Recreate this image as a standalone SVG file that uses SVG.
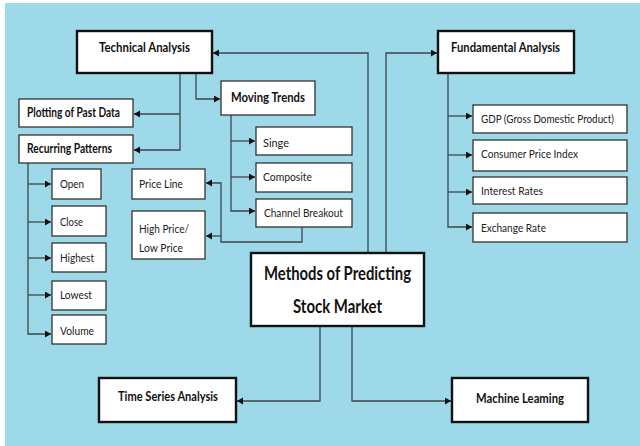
<svg xmlns="http://www.w3.org/2000/svg" width="640" height="446" viewBox="0 0 640 446">
<style>
.main{fill:#fff;stroke:#111;stroke-width:2.4}
.sub{fill:#fff;stroke:#333;stroke-width:1.3}
.hb{font-family:Lato,"Liberation Sans",sans-serif;font-weight:bold;font-size:12.5px;fill:#111}
.big{font-family:Lato,"Liberation Sans",sans-serif;font-weight:bold;font-size:18px;fill:#111}
.t{font-family:Lato,"Liberation Sans",sans-serif;font-size:12px;fill:#222}
.c path{fill:none;stroke:#3b4650;stroke-width:1.3}
</style>
<defs>
<marker id="ah" markerUnits="userSpaceOnUse" markerWidth="8" markerHeight="8" refX="6" refY="3.5" orient="auto">
<path d="M0,0 L6,3.5 L0,7 Z" fill="#111"/>
</marker>
</defs>
<rect x="0" y="0" width="640" height="446" fill="#fff"/>
<rect x="5" y="3" width="635" height="443" fill="#9ED9E9"/>

<g class="c">
<path d="M368,253 V53 H213" marker-end="url(#ah)"/>
<path d="M386,253 V53 H437" marker-end="url(#ah)"/>
<path d="M180,73 V150 H134" marker-end="url(#ah)"/>
<path d="M180,114 H134" marker-end="url(#ah)"/>
<path d="M196,73 V99 H220" marker-end="url(#ah)"/>
<path d="M231,115 V211 H255" marker-end="url(#ah)"/>
<path d="M231,141 H255" marker-end="url(#ah)"/>
<path d="M231,177 H255" marker-end="url(#ah)"/>
<path d="M302,227 V242 H221 V183 H206" marker-end="url(#ah)"/>
<path d="M221,236 H206" marker-end="url(#ah)"/>
<path d="M28,163 V334 H51" marker-end="url(#ah)"/>
<path d="M28,184 H51" marker-end="url(#ah)"/>
<path d="M28,222 H51" marker-end="url(#ah)"/>
<path d="M28,258 H51" marker-end="url(#ah)"/>
<path d="M28,295 H51" marker-end="url(#ah)"/>
<path d="M448,73 V227 H472" marker-end="url(#ah)"/>
<path d="M448,116 H472" marker-end="url(#ah)"/>
<path d="M448,155 H472" marker-end="url(#ah)"/>
<path d="M448,192 H472" marker-end="url(#ah)"/>
<path d="M320,326 V401 H237" marker-end="url(#ah)"/>
<path d="M352,326 V401 H451" marker-end="url(#ah)"/>
</g>

<g id="technical"><rect class="main" x="77" y="31" width="135" height="42"/><text class="hb" x="99" y="52" textLength="91" lengthAdjust="spacingAndGlyphs">Technical Analysis</text></g>
<g id="fundamental"><rect class="main" x="438" y="31" width="136" height="42"/><text class="hb" x="451" y="52" textLength="109" lengthAdjust="spacingAndGlyphs">Fundamental Analysis</text></g>
<g id="moving"><rect class="sub" x="221" y="81" width="94" height="34"/><text class="hb" x="231" y="102" textLength="74" lengthAdjust="spacingAndGlyphs">Moving Trends</text></g>
<g id="plotting"><rect class="sub" x="19" y="99" width="114" height="28"/><text class="hb" x="27" y="117" textLength="93" lengthAdjust="spacingAndGlyphs">Plotting of Past Data</text></g>
<g id="recurring"><rect class="sub" x="19" y="135" width="114" height="28"/><text class="hb" x="27" y="153" textLength="85" lengthAdjust="spacingAndGlyphs">Recurring Patterns</text></g>
<g id="single"><rect class="sub" x="256" y="127" width="96" height="28"/><text class="t" x="263" y="147" textLength="26" lengthAdjust="spacingAndGlyphs">Singe</text></g>
<g id="composite"><rect class="sub" x="256" y="163" width="96" height="29"/><text class="t" x="263" y="181" textLength="49" lengthAdjust="spacingAndGlyphs">Composite</text></g>
<g id="channel"><rect class="sub" x="256" y="199" width="96" height="28"/><text class="t" x="264" y="217" textLength="79" lengthAdjust="spacingAndGlyphs">Channel Breakout</text></g>
<g id="priceline"><rect class="sub" x="132" y="169" width="73" height="30"/><text class="t" x="139" y="188" textLength="44" lengthAdjust="spacingAndGlyphs">Price Line</text></g>
<g id="highlow"><rect class="sub" x="132" y="211" width="73" height="48"/><text class="t" x="139" y="233" textLength="50" lengthAdjust="spacingAndGlyphs">High Price/</text><text class="t" x="139" y="252" textLength="44" lengthAdjust="spacingAndGlyphs">Low Price</text></g>
<g id="open"><rect class="sub" x="52" y="169" width="49" height="30"/><text class="t" x="60" y="188" textLength="24" lengthAdjust="spacingAndGlyphs">Open</text></g>
<g id="close"><rect class="sub" x="52" y="206" width="54" height="30"/><text class="t" x="60" y="226" textLength="23" lengthAdjust="spacingAndGlyphs">Close</text></g>
<g id="highest"><rect class="sub" x="52" y="243" width="54" height="29"/><text class="t" x="60" y="262" textLength="34" lengthAdjust="spacingAndGlyphs">Highest</text></g>
<g id="lowest"><rect class="sub" x="52" y="281" width="54" height="29"/><text class="t" x="60" y="299" textLength="32" lengthAdjust="spacingAndGlyphs">Lowest</text></g>
<g id="volume"><rect class="sub" x="52" y="315" width="54" height="29"/><text class="t" x="60" y="335" textLength="34" lengthAdjust="spacingAndGlyphs">Volume</text></g>
<g id="gdp"><rect class="sub" x="473" y="105" width="154" height="28"/><text class="t" x="481" y="123" textLength="133" lengthAdjust="spacingAndGlyphs">GDP (Gross Domestic Product)</text></g>
<g id="cpi"><rect class="sub" x="473" y="140" width="154" height="31"/><text class="t" x="481" y="158" textLength="97" lengthAdjust="spacingAndGlyphs">Consumer Price Index</text></g>
<g id="interest"><rect class="sub" x="473" y="177" width="154" height="27"/><text class="t" x="481" y="195" textLength="62" lengthAdjust="spacingAndGlyphs">Interest Rates</text></g>
<g id="exchange"><rect class="sub" x="473" y="213" width="154" height="29"/><text class="t" x="481" y="232" textLength="65" lengthAdjust="spacingAndGlyphs">Exchange Rate</text></g>
<g id="methods"><rect class="main" x="251" y="253" width="173" height="73"/><text class="big" x="264" y="280" textLength="147" lengthAdjust="spacingAndGlyphs">Methods of Predicting</text><text class="big" x="293" y="313" textLength="89" lengthAdjust="spacingAndGlyphs">Stock Market</text></g>
<g id="timeseries"><rect class="main" x="99" y="378" width="137" height="44"/><text class="hb" x="118" y="401" textLength="100" lengthAdjust="spacingAndGlyphs">Time Series Analysis</text></g>
<g id="machine"><rect class="main" x="452" y="378" width="136" height="44"/><text class="hb" x="476" y="403" textLength="88" lengthAdjust="spacingAndGlyphs">Machine Leaming</text></g>
</svg>
